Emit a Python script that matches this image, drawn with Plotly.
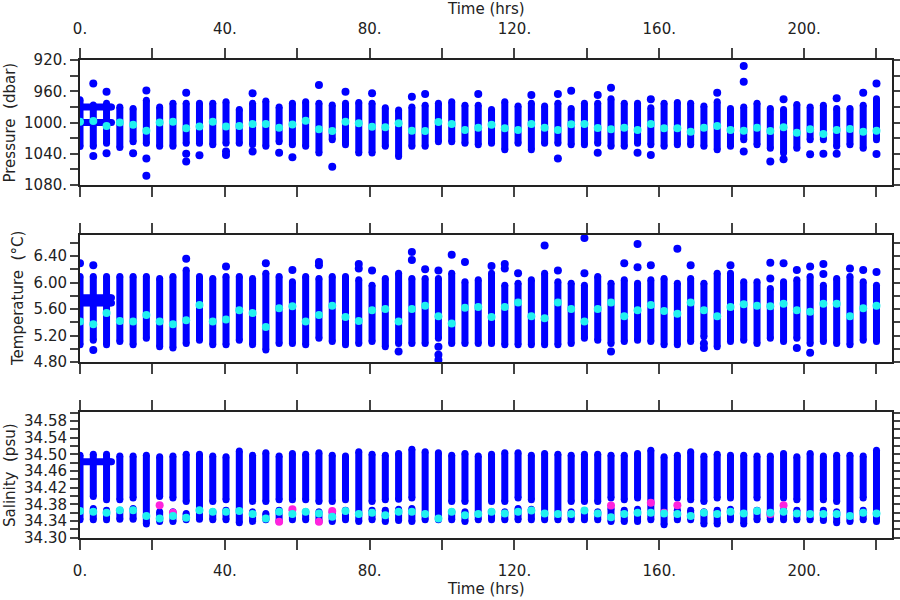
import plotly.graph_objects as go

# ---------------- data ----------------
hours = [0.0, 3.67, 7.33, 11.0, 14.67, 18.33, 22.0, 25.67, 29.33, 33.0, 36.67, 40.33, 44.0,
         47.67, 51.33, 55.0, 58.67, 62.33, 66.0, 69.67, 73.33, 77.0, 80.67, 84.33, 88.0,
         91.67, 95.33, 99.0, 102.67, 106.33, 110.0, 113.67, 117.33, 121.0, 124.67, 128.33,
         132.0, 135.67, 139.33, 143.0, 146.67, 150.33, 154.0, 157.67, 161.33, 165.0, 168.67,
         172.33, 176.0, 179.67, 183.33, 187.0, 190.67, 194.33, 198.0, 201.67, 205.33, 209.0,
         212.67, 216.33, 220.0]

# Pressure (dbar): extent of each profile, profile mean, isolated samples
pres_top = [971, 977.5, 975.5, 980, 982, 971.5, 980, 975.5, 975.5, 975.5, 975.5, 973.5, 983.5,
            975.5, 972.5, 980, 975.5, 973.5, 975.5, 977.5, 975.5, 974.5, 975.5, 981, 984, 980,
            978, 975.5, 973.5, 978, 978, 983.5, 973.5, 979, 975.5, 979, 975.5, 982, 975.5,
            975.5, 969.5, 975.5, 975.5, 981, 975.5, 974.5, 975.5, 979, 973.5, 982, 980, 975.5,
            982, 983.5, 977, 980, 978, 982, 982, 978, 969.5]
pres_bot = [1030.7, 1030.5, 1026.5, 1032, 1024.5, 1026.5, 1030.5, 1030.5, 1026.5, 1026.5, 1028.5,
            1026.5, 1026.5, 1028.5, 1030.5, 1024.5, 1028.5, 1030.5, 1039, 1022, 1028.5, 1039,
            1039, 1030.5, 1043.5, 1030.5, 1030.5, 1024.5, 1024.5, 1026.5, 1028.5, 1026.5, 1035,
            1026.5, 1035, 1026.5, 1026.5, 1028.5, 1028.5, 1026.5, 1030.5, 1030.5, 1026.5, 1028.5,
            1030.5, 1028.5, 1028.5, 1030.5, 1035, 1030.5, 1022, 1028.5, 1033, 1039, 1033, 1022,
            1022, 1030.5, 1028.5, 1033, 1022]
pres_mean = [999, 998, 1004.5, 1000, 1003, 1010.5, 1000, 999, 1007.5, 1005, 999, 1005, 1004.5,
             1002, 1002, 1006.6, 1002.5, 997.7, 1008.7, 1011, 999, 1001, 1005.3, 1006.2, 1001,
             1010.5, 1010.9, 999.4, 1002, 1009.6, 1006.6, 1002.8, 1007.5, 1009.6, 1001.9, 1006.6,
             1009.6, 1002.3, 1002, 1007, 1008.7, 1006.6, 1009.6, 1001.9, 1007.5, 1007.5, 1011.7,
             1006.6, 1004.5, 1009.6, 1010.5, 1006.6, 1010.9, 1006.2, 1013, 1008.7, 1014.7, 1009.6,
             1008.3, 1011.7, 1010.5]
pres_out_t = [3.67, 3.67, 7.33, 7.33, 14.67, 18.33, 18.33, 18.33, 29.33, 29.33, 29.33, 33.0,
              40.33, 40.33, 47.67, 47.67, 55.0, 58.67, 66.0, 69.67, 73.33, 80.67, 91.67, 95.33,
              110.0, 124.67, 132.0, 132.0, 135.67, 143.0, 143.0, 146.67, 154.0, 157.67, 157.67,
              176.0, 183.33, 183.33, 183.33, 190.67, 194.33, 194.33, 201.67, 205.33, 209.0,
              209.0, 216.33, 220.0, 220.0]
pres_out_v = [950, 1043, 960.5, 1039.5, 1039.5, 959, 1046, 1068, 962, 1040, 1050, 1042,
              1037, 1041.5, 962.7, 1037, 1038.6, 1044.6, 952, 1056.5, 960.5, 962.7, 967, 963.5,
              963.5, 964.8, 963.5, 1046, 959.3, 964.8, 1038.6, 955.4, 1038.6, 970.3, 1041.6,
              961.8, 927.7, 947.7, 1037, 1050, 970.3, 1047, 1040.7, 1040, 968.9,
              1040, 961.8, 950, 1040.3]
# early fixed-depth record (start, end hours, value)
pres_early_t0 = [0.0, 0.0]
pres_early_t1 = [8.7, 8.7]
pres_early_v = [980, 1000]

# Temperature (deg C)
temp_top = [6.09, 6.09, 6.09, 6.09, 6.09, 6.09, 6.06, 6.09, 6.19, 6.09, 6.06, 6.09, 6.09, 6.06,
            6.14, 6.09, 6.01, 6.09, 6.06, 6.09, 6.09, 6.04, 5.96, 6.06, 6.14, 6.06, 6.06, 6.06,
            6.14, 6.01, 6.04, 6.14, 5.96, 5.99, 6.04, 6.14, 6.01, 5.99, 5.96, 6.09, 5.99, 6.04,
            5.99, 6.04, 6.06, 5.99, 6.06, 5.99, 6.14, 6.14, 6.01, 6.01, 5.91, 6.01, 6.04, 6.09,
            5.96, 6.06, 6.09, 6.01, 5.96]
temp_bot = [5.06, 5.13, 5.06, 5.11, 5.06, 5.16, 5.03, 5.01, 5.08, 5.13, 5.06, 5.06, 5.13, 5.06,
            4.98, 5.08, 5.08, 5.06, 5.16, 5.11, 5.06, 5.08, 5.11, 5.03, 5.08, 5.08, 5.08, 5.16,
            5.08, 5.08, 5.08, 5.08, 5.06, 5.06, 5.06, 5.06, 5.06, 5.08, 5.16, 5.13, 5.08, 5.11,
            5.13, 5.11, 5.06, 5.06, 5.11, 5.18, 5.03, 5.11, 5.13, 5.08, 5.16, 5.11, 5.16, 5.08,
            5.11, 5.08, 5.06, 5.13, 5.11]
temp_mean = [5.41, 5.37, 5.54, 5.42, 5.41, 5.51, 5.41, 5.37, 5.43, 5.66, 5.41, 5.44, 5.58, 5.54,
             5.33, 5.61, 5.64, 5.41, 5.51, 5.65, 5.48, 5.42, 5.58, 5.60, 5.41, 5.60, 5.65, 5.49,
             5.38, 5.62, 5.63, 5.48, 5.63, 5.70, 5.49, 5.46, 5.70, 5.60, 5.41, 5.60, 5.70, 5.49,
             5.58, 5.66, 5.57, 5.53, 5.70, 5.58, 5.49, 5.63, 5.67, 5.65, 5.64, 5.68, 5.58, 5.56,
             5.68, 5.68, 5.49, 5.61, 5.65]
temp_out_t = [0.0, 3.67, 3.67, 29.33, 40.33, 51.33, 58.67, 66.0, 66.0, 77.0, 77.0, 80.67, 88.0,
              91.67, 91.67, 95.33, 99.0, 99.0, 99.0, 99.0, 102.67, 106.33, 113.67, 117.33,
              117.33, 121.0, 128.33, 132.0, 139.33, 139.33, 146.67, 150.33, 154.0, 154.0,
              157.67, 165.0, 168.67, 172.33, 172.33, 179.67, 190.67, 190.67, 194.33, 198.0,
              198.0, 201.67, 201.67, 205.33, 205.33, 212.67, 216.33, 220.0]
temp_out_v = [6.29, 6.26, 4.98, 6.36, 6.24, 6.29, 6.19, 6.31, 6.26, 6.28, 6.21, 6.18, 4.96,
              6.46, 6.34, 6.20, 6.18, 5.03, 4.91, 4.83, 6.42, 6.31, 6.25, 6.28,
              6.21, 6.14, 6.56, 6.18, 6.67, 6.14, 4.96, 6.29, 6.58, 6.23,
              6.26, 6.51, 6.26, 5.08, 5.01, 6.26, 6.30, 6.06, 6.29, 6.19,
              5.01, 6.24, 4.94, 6.28, 6.13, 6.21, 6.19, 6.16]
temp_early_t0 = [0.0, 0.0]
temp_early_t1 = [8.7, 8.7]
temp_early_v = [5.77, 5.69]

# Salinity (psu): upper part, lower part (None = one continuous profile)
sal_top = [34.498, 34.500, 34.500, 34.496, 34.496, 34.498, 34.494, 34.496, 34.500, 34.500,
           34.496, 34.494, 34.508, 34.498, 34.504, 34.496, 34.502, 34.500, 34.504, 34.498,
           34.496, 34.506, 34.500, 34.498, 34.502, 34.512, 34.506, 34.504, 34.498, 34.502,
           34.496, 34.500, 34.504, 34.504, 34.498, 34.502, 34.500, 34.498, 34.500, 34.500,
           34.498, 34.498, 34.502, 34.510, 34.494, 34.498, 34.506, 34.496, 34.500, 34.498,
           34.498, 34.496, 34.496, 34.502, 34.494, 34.502, 34.496, 34.498, 34.498, 34.496,
           34.510]
sal_upper_bot = [None, 34.399, 34.391, 34.391, 34.395, None, 34.399, 34.395, 34.387, None,
                 34.387, 34.391, None, 34.387, 34.387, 34.391, 34.391, 34.391, 34.387, 34.387,
                 34.391, None, 34.387, 34.391, 34.392, 34.395, None, None, 34.387, 34.387,
                 None, 34.387, 34.387, 34.395, 34.391, None, None, 34.387, 34.387, 34.387,
                 34.395, 34.391, 34.395, None, None, 34.395, 34.391, 34.387, 34.395, 34.395,
                 None, 34.395, None, 34.395, 34.391, None, 34.391, 34.387, None, 34.395,
                 None]
sal_lower_top = [None, 34.370, 34.366, 34.366, 34.370, None, 34.362, 34.362, 34.358, None,
                 34.362, 34.366, None, 34.362, 34.358, 34.366, 34.366, 34.362, 34.362, 34.362,
                 34.366, None, 34.366, 34.366, 34.368, 34.370, None, None, 34.362, 34.362,
                 None, 34.362, 34.362, 34.370, 34.368, None, None, 34.362, 34.362, 34.362,
                 34.370, 34.366, 34.368, None, None, 34.366, 34.366, 34.362, 34.366, 34.368,
                 None, 34.366, None, 34.366, 34.366, None, 34.366, 34.362, None, 34.366,
                 None]
sal_bot = [34.343, 34.343, 34.343, 34.344, 34.344, 34.333, 34.339, 34.339, 34.343, 34.344,
           34.343, 34.343, 34.336, 34.339, 34.343, 34.339, 34.343, 34.343, 34.339, 34.339,
           34.343, 34.339, 34.343, 34.339, 34.341, 34.339, 34.343, 34.343, 34.343, 34.339,
           34.343, 34.343, 34.343, 34.343, 34.343, 34.343, 34.343, 34.343, 34.343, 34.343,
           34.339, 34.339, 34.339, 34.343, 34.331, 34.343, 34.343, 34.333, 34.333, 34.343,
           34.333, 34.343, 34.343, 34.343, 34.343, 34.343, 34.341, 34.336, 34.339, 34.343,
           34.339]
sal_mean = [34.364, 34.362, 34.360, 34.366, 34.366, 34.352, 34.346, 34.352, 34.348, 34.366,
            34.362, 34.362, 34.364, 34.357, 34.346, 34.362, 34.357, 34.362, 34.358, 34.350,
            34.364, 34.357, 34.360, 34.354, 34.362, 34.362, 34.357, 34.346, 34.362, 34.354,
            34.357, 34.362, 34.358, 34.362, 34.365, 34.358, 34.357, 34.357, 34.365, 34.358,
            34.349, 34.357, 34.360, 34.360, 34.358, 34.357, 34.352, 34.360, 34.357, 34.362,
            34.358, 34.364, 34.360, 34.362, 34.358, 34.357, 34.357, 34.357, 34.352, 34.360,
            34.358]
sal_flag_t = [22.0, 25.67, 55.0, 58.67, 66.0, 69.67, 146.67, 157.67, 161.33, 165.0, 190.67, 194.33]
sal_flag_v = [34.378, 34.360, 34.338, 34.368, 34.338, 34.364, 34.377, 34.384, 34.360, 34.378,
              34.357, 34.378]
sal_early_t0 = [0.0]
sal_early_t1 = [8.7]
sal_early_v = [34.482]

# tick labels
time_ticks = list(range(0, 221, 20))
time_labels = ["0." if v == 0 else (f"{v}." if v % 40 == 0 else "") for v in time_ticks]
pres_ticks = list(range(920, 1081, 20))
pres_labels = [f"{v}." if v % 40 == 0 else "" for v in pres_ticks]
temp_ticks = [4.8, 5.0, 5.2, 5.4, 5.6, 5.8, 6.0, 6.2, 6.4, 6.6]
temp_labels = ["4.80", "", "5.20", "", "5.60", "", "6.00", "", "6.40", ""]
sal_ticks = [34.30, 34.32, 34.34, 34.36, 34.38, 34.40, 34.42, 34.44, 34.46, 34.48, 34.50,
             34.52, 34.54, 34.56, 34.58, 34.60]
sal_labels = ["34.30", "", "34.34", "", "34.38", "", "34.42", "", "34.46", "", "34.50",
              "", "34.54", "", "34.58", ""]

# ---------------- styling ----------------
BLUE = "#0000ff"
CYAN = "#22f0f0"
MAGENTA = "#ff22dd"
INK = "#222222"
FONT = "DejaVu Sans"


def vsegments(ts, tops, bots):
    xs, ys = [], []
    for t, a, b in zip(ts, tops, bots):
        if a is None or b is None:
            continue
        xs += [t, t, None]
        ys += [a, b, None]
    return xs, ys


def hsegments(t0s, t1s, vals):
    xs, ys = [], []
    for a, b, v in zip(t0s, t1s, vals):
        xs += [a, b, None]
        ys += [v, v, None]
    return xs, ys


fig = go.Figure()


def add_panel(n, seg_x, seg_y, out_t, out_v, mean_v, flag_t=None, flag_v=None):
    xa = "x" if n == 1 else f"x{n}"
    ya = "y" if n == 1 else f"y{n}"
    fig.add_trace(go.Scatter(x=seg_x, y=seg_y, mode="lines+markers", xaxis=xa, yaxis=ya,
                             line=dict(color=BLUE, width=7), marker=dict(color=BLUE, size=7),
                             connectgaps=False, hoverinfo="skip", showlegend=False))
    if out_t:
        fig.add_trace(go.Scatter(x=out_t, y=out_v, mode="markers", xaxis=xa, yaxis=ya,
                                 marker=dict(color=BLUE, size=8), showlegend=False))
    if flag_t:
        fig.add_trace(go.Scatter(x=flag_t, y=flag_v, mode="markers", xaxis=xa, yaxis=ya,
                                 marker=dict(color=MAGENTA, size=8), showlegend=False))
    fig.add_trace(go.Scatter(x=hours, y=mean_v, mode="markers", xaxis=xa, yaxis=ya,
                             marker=dict(color=CYAN, size=8), showlegend=False))


# pressure
px1, py1 = vsegments(hours, pres_top, pres_bot)
ex, ey = hsegments(pres_early_t0, pres_early_t1, pres_early_v)
add_panel(1, px1 + ex, py1 + ey, pres_out_t, pres_out_v, pres_mean)

# temperature
tx1, ty1 = vsegments(hours, temp_top, temp_bot)
ex, ey = hsegments(temp_early_t0, temp_early_t1, temp_early_v)
add_panel(2, tx1 + ex, ty1 + ey, temp_out_t, temp_out_v, temp_mean)

# salinity
upper_bot = [ub if ub is not None else b for ub, b in zip(sal_upper_bot, sal_bot)]
sx1, sy1 = vsegments(hours, sal_top, upper_bot)
sx2, sy2 = vsegments(hours, sal_lower_top, [b if lt is not None else None
                                             for lt, b in zip(sal_lower_top, sal_bot)])
ex, ey = hsegments(sal_early_t0, sal_early_t1, sal_early_v)
add_panel(3, sx1 + sx2 + ex, sy1 + sy2 + ey, [], [], sal_mean, sal_flag_t, sal_flag_v)

W, H = 900, 600


def PX(X):
    return X / W


def PY(Y):
    return 1 - Y / H


XD = [PX(80), PX(891.7)]
tickfont = dict(family=FONT, size=15, color=INK)


def xaxis(domain_anchor, side, show):
    return dict(domain=XD, range=[0, 224.2], anchor=domain_anchor, side=side,
                tickmode="array", tickvals=time_ticks, ticktext=time_labels,
                showticklabels=show, ticks="outside", ticklen=10, tickwidth=1.5,
                tickcolor="#444", showline=True, linewidth=2, linecolor=INK, mirror="ticks",
                showgrid=False, zeroline=False, tickfont=tickfont, ticklabelstandoff=8,
                automargin=False)


def yaxis(domain, rng, tv, tt, anchor):
    return dict(domain=domain, range=rng, anchor=anchor, tickmode="array", tickvals=tv,
                ticktext=tt, ticks="outside", ticklen=8, tickwidth=1.5, tickcolor="#444",
                showline=True, linewidth=2, linecolor=INK, mirror="ticks", showgrid=False,
                zeroline=False, tickfont=tickfont, automargin=False)


fig.update_layout(
    width=W, height=H, margin=dict(l=0, r=0, t=0, b=0, autoexpand=False),
    paper_bgcolor="white", plot_bgcolor="white", showlegend=False,
    xaxis=xaxis("y", "top", True),
    xaxis2=xaxis("y2", "bottom", False),
    xaxis3=xaxis("y3", "bottom", True),
    yaxis=yaxis([PY(185), PY(60)], [1080, 920], pres_ticks, pres_labels, "x"),
    yaxis2=yaxis([PY(362), PY(235)], [4.8, 6.717], temp_ticks, temp_labels, "x2"),
    yaxis3=yaxis([PY(537.7), PY(411.7)], [34.30, 34.6024], sal_ticks, sal_labels, "x3"),
)

NB = "\u00a0"
titles = [
    (486, 9, "Time" + NB + "(hrs)", 0),
    (486, 589, "Time" + NB + "(hrs)", 0),
    (10, 122.5, "Pressure" + NB + NB + "(dbar)", -90),
    (18, 299, "Temperature" + NB + NB + "(°C)", -90),
    (10, 475, "Salinity" + NB + NB + "(psu)", -90),
]
for X, Y, txt, ang in titles:
    fig.add_annotation(x=PX(X), y=PY(Y), xref="paper", yref="paper", text=txt,
                       showarrow=False, textangle=ang, xanchor="center", yanchor="middle",
                       font=dict(family=FONT, size=15, color=INK))

# remove the browser's default 8px page margin so the 900x600 figure fills the window
fig.write_html("out.html",
               config=dict(displayModeBar=False),
               post_script="document.body.style.margin='0';"
                           "document.body.style.overflow='hidden';")
